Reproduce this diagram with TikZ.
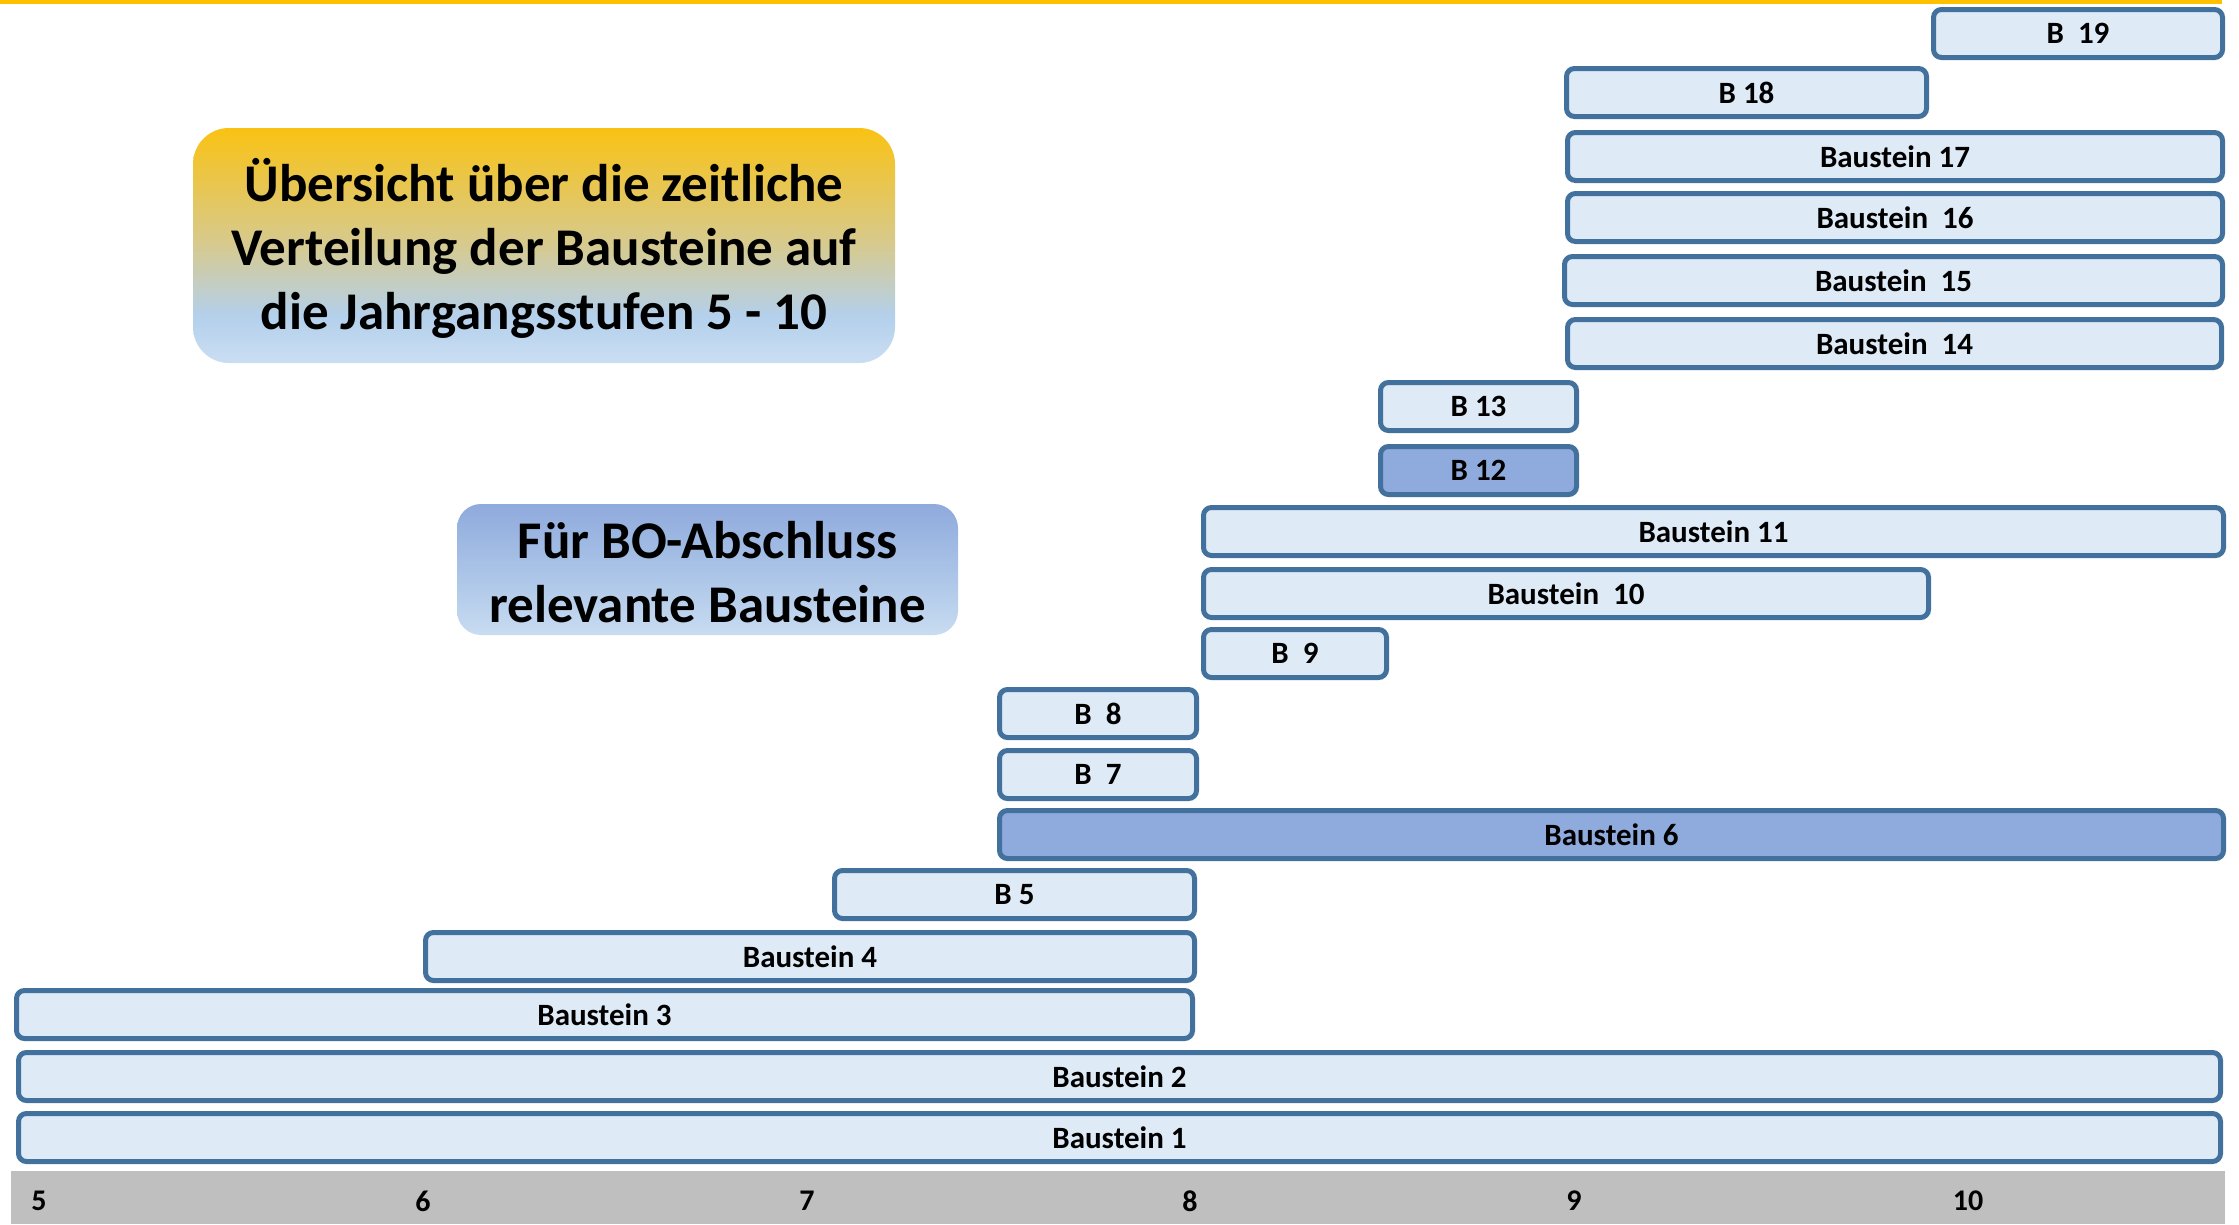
\documentclass[tikz,border=0pt]{standalone}
\usepackage{fontspec}
\setmainfont{Carlito}
\definecolor{barfill}{HTML}{DEEAF6}
\definecolor{bardarkfill}{HTML}{8FAADC}
\definecolor{barline}{HTML}{41719C}
\definecolor{axisgray}{HTML}{BFBFBF}
\definecolor{topline}{HTML}{FFC000}
\definecolor{tOrange}{HTML}{F9C213}
\definecolor{tTan}{HTML}{D6CA90}
\definecolor{tBlue}{HTML}{B4D0EC}
\definecolor{tBlueL}{HTML}{CADEF2}
\definecolor{bTop}{HTML}{8FAADC}
\definecolor{bMid}{HTML}{A9C3E7}
\definecolor{bBot}{HTML}{C8DCF1}
\pgfdeclareverticalshading{titleshade}{100bp}{color(0bp)=(tBlueL); color(25bp)=(tBlueL); color(35bp)=(tBlue); color(50bp)=(tTan); color(75bp)=(tOrange); color(100bp)=(tOrange)}
\pgfdeclareverticalshading{boshade}{100bp}{color(0bp)=(bBot); color(25bp)=(bBot); color(50bp)=(bMid); color(75bp)=(bTop); color(100bp)=(bTop)}
\tikzset{
  barbox/.style={draw=barline, line width=5pt, fill=barfill, rounded corners=8pt,
    minimum height=48pt, inner sep=0pt, font=\fontsize{31}{37}\selectfont\bfseries, text=black},
  bardark/.style={barbox, fill=bardarkfill},
  axlabel/.style={font=\fontsize{30}{36}\selectfont\bfseries, text=black, inner sep=0pt},
  infobox/.style={align=center, inner sep=0pt, font=\fontsize{53}{64}\selectfont\bfseries, text=black}
}
\newcommand{\mkbar}[6]{\node[#6, minimum width={#3pt-#2pt-5pt}] (#1) at ({(#2+#3)/2},{#4+26.5}) {#5};}
\begin{document}
\begin{tikzpicture}[x=1pt,y=-1pt]
\useasboundingbox (0,0) rectangle (2239,1224);
\fill[white] (0,0) rectangle (2239,1224);
% top line
\fill[topline] (0,0) rectangle (2222,4);
% axis
\node[fill=axisgray, minimum width=2214pt, minimum height=53pt, inner sep=0pt] (axis) at (1118,1197.5) {};
\node[axlabel] (l5) at (39,1201) {5};
\node[axlabel] (l6) at (423,1201) {6};
\node[axlabel] (l7) at (807,1201) {7};
\node[axlabel] (l8) at (1190,1201) {8};
\node[axlabel] (l9) at (1574,1201) {9};
\node[axlabel] (l10) at (1968,1201) {10};
% bars
\mkbar{b19}{1931}{2225}{7}{B\ \ 19}{barbox}
\mkbar{b18}{1564}{1929}{66}{B 18}{barbox}
\mkbar{b17}{1565}{2225}{130}{Baustein 17}{barbox}
\mkbar{b16}{1565}{2225}{191}{Baustein\ \ 16}{barbox}
\mkbar{b15}{1562}{2225}{254}{Baustein\ \ 15}{barbox}
\mkbar{b14}{1565}{2224}{317}{Baustein\ \ 14}{barbox}
\mkbar{b13}{1378}{1579}{380}{B 13}{barbox}
\mkbar{b12}{1378}{1579}{444}{B 12}{bardark}
\mkbar{b11}{1201}{2226}{505}{Baustein 11}{barbox}
\mkbar{b10}{1201}{1931}{567}{Baustein\ \ 10}{barbox}
\mkbar{b9}{1201}{1389}{627}{B\ \ 9}{barbox}
\mkbar{b8}{997}{1199}{687}{B\ \ 8}{barbox}
\mkbar{b7}{997}{1199}{748}{B\ \ 7}{barbox}
\mkbar{b6}{997}{2226}{808}{Baustein 6}{bardark}
\mkbar{b5}{832}{1197}{868}{B 5}{barbox}
\mkbar{b4}{423}{1197}{930}{Baustein 4}{barbox}
\mkbar{b3}{14}{1195}{988}{Baustein 3}{barbox}
\mkbar{b2}{16}{2223}{1050}{Baustein 2}{barbox}
\mkbar{b1}{16}{2223}{1111}{Baustein 1}{barbox}
% info boxes
\node[shading=titleshade, rounded corners=36pt, minimum width=702pt, minimum height=235pt, inner sep=0pt] (titlebg) at (544,245.5) {};
\node[infobox] (title) at (544,248) {Übersicht über die zeitliche\\Verteilung der Bausteine auf\\die Jahrgangsstufen 5 - 10};
\node[shading=boshade, rounded corners=24pt, minimum width=501pt, minimum height=131pt, inner sep=0pt] (bobg) at (707.5,569.5) {};
\node[infobox] (bo) at (707.5,572) {Für BO-Abschluss\\relevante Bausteine};
\end{tikzpicture}
\end{document}
